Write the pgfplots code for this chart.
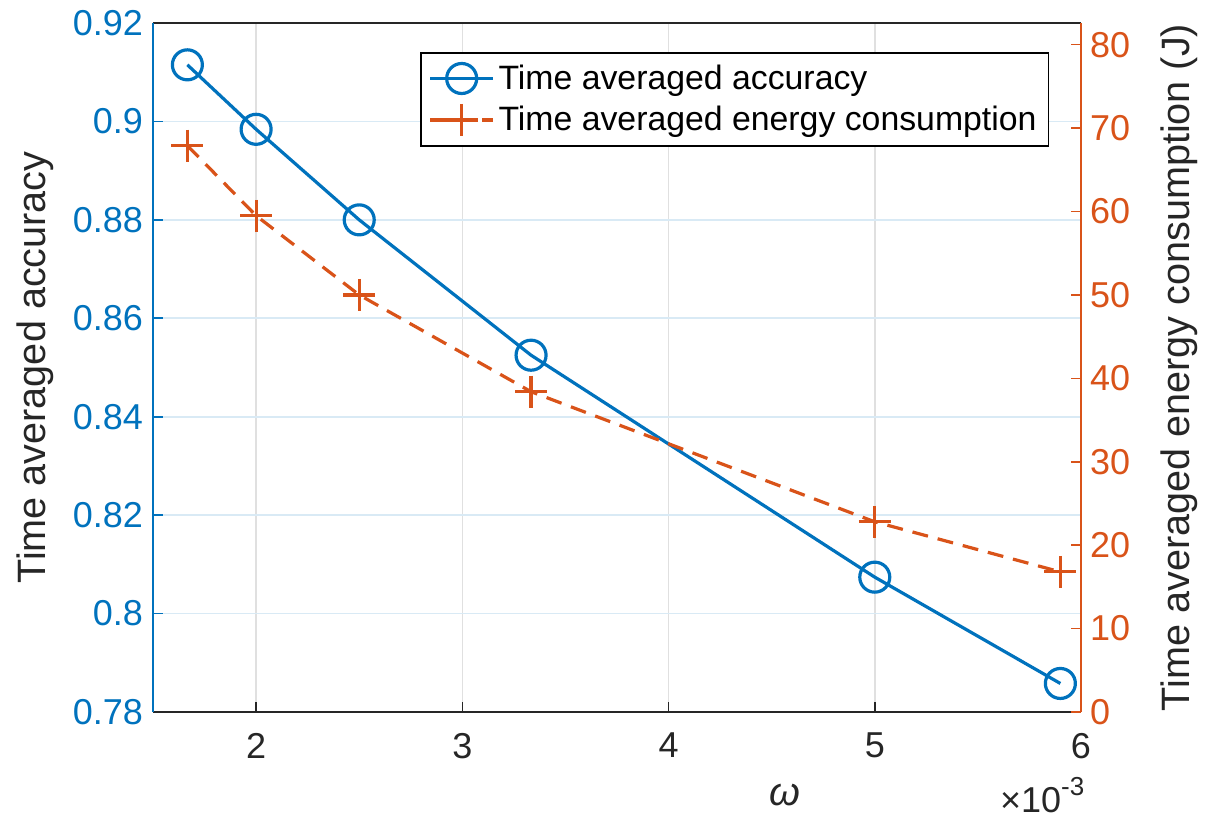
\documentclass[border=0pt]{standalone}
\usepackage{fontspec}
\setmainfont{Liberation Sans}
\usepackage{pgfplots}
\pgfplotsset{compat=1.18}
\definecolor{mblue}{rgb}{0,0.447,0.741}
\definecolor{morange}{rgb}{0.85,0.325,0.098}
\definecolor{mgray}{rgb}{0.15,0.15,0.15}
\newcommand{\tickfont}{\fontsize{18}{21}\selectfont}
\newcommand{\labfont}{\fontsize{19.8}{23}\selectfont}
\newcommand{\legfont}{\fontsize{16.9}{19}\selectfont}
\pgfplotsset{
  common/.style={
    at={(0,0)}, anchor=south west, scale only axis,
    width=464pt, height=344.5pt,
    xmin=1.5, xmax=6,
    /pgf/number format/assume math mode=true,
    major tick length=5pt,
    tick align=inside,
    clip mode=individual,
  },
  accstyle/.style={mblue, line width=1.6pt, mark=o, mark size=7.5pt, mark options={solid, line width=1.6pt}},
  enstyle/.style={morange, line width=1.6pt, dash pattern=on 8pt off 5pt, mark=+, mark size=8pt, mark options={solid, line width=1.6pt}},
}
\begin{document}
\begin{tikzpicture}
\path (-76.5pt,-54.5pt) rectangle (526pt,356pt);
\begin{axis}[common,
  axis x line*=box, axis y line*=left,
  xtick={2,3,4,5,6}, xtick pos=left,
  ymin=0.78, ymax=0.92,
  ytick={0.78,0.8,0.82,0.84,0.86,0.88,0.9,0.92},
  yticklabels={0.78,0.8,0.82,0.84,0.86,0.88,0.9,0.92},
  x axis line style={mgray, line width=1.1pt},
  y axis line style={mblue, line width=1.1pt},
  xtick style={mgray, line width=0.8pt},
  ytick style={mblue, line width=0.8pt},
  xticklabel style={mgray, font=\tickfont, yshift=-7pt},
  yticklabel style={mblue, font=\tickfont, xshift=-1.5pt},
  xmajorgrids, ymajorgrids,
  x grid style={black!12, line width=0.8pt},
  y grid style={mblue!15, line width=0.8pt},
  ylabel={Time averaged accuracy},
  ylabel style={mgray, font=\labfont, at={(rel axis cs:-0.1272,0.5)}, anchor=center},
  xlabel={\textit{ω}},
  xlabel style={mgray, font=\labfont, at={(rel axis cs:0.681,-0.1205)}, anchor=center},
]
\addplot[accstyle] coordinates {
(1.6667,0.9115) (2,0.8984) (2.5,0.8800) (3.3333,0.8525) (5,0.8074) (5.9,0.7858)
};
\node[mgray, font=\tickfont, anchor=east, inner sep=0pt] at (rel axis cs:1.004,-0.1205) {×10\raisebox{0.45em}{\fontsize{13}{15}\selectfont -3}};
\end{axis}
\begin{axis}[common,
  axis y line*=right, axis x line=none,
  ymin=0, ymax=82.6,
  ytick={0,10,20,30,40,50,60,70,80},
  y axis line style={morange, line width=1.1pt},
  ytick style={morange, line width=0.8pt},
  yticklabel style={morange, font=\tickfont, xshift=1pt},
  ylabel={Time averaged energy consumption (J)},
  ylabel style={mgray, font=\labfont, at={(rel axis cs:1.1056,0.5)}, anchor=center, rotate=0},
  legend style={at={(rel axis cs:0.2877,0.958)}, anchor=north west, draw=black, line width=0.8pt, font=\legfont, fill=white, inner xsep=4pt, inner ysep=4pt, row sep=3pt},
  legend cell align=left,
  legend image code/.code={\draw[mark repeat=2,mark phase=2] plot coordinates {(0cm,0cm) (0.55cm,0cm) (1.1cm,0cm)};},
]
\addlegendimage{accstyle}
\addlegendentry{Time averaged accuracy}
\addplot[enstyle] coordinates {
(1.6667,67.9) (2,59.5) (2.5,50.0) (3.3333,38.4) (5,22.8) (5.9,16.8)
};
\addlegendentry{Time averaged energy consumption}
\end{axis}
\end{tikzpicture}
\end{document}
